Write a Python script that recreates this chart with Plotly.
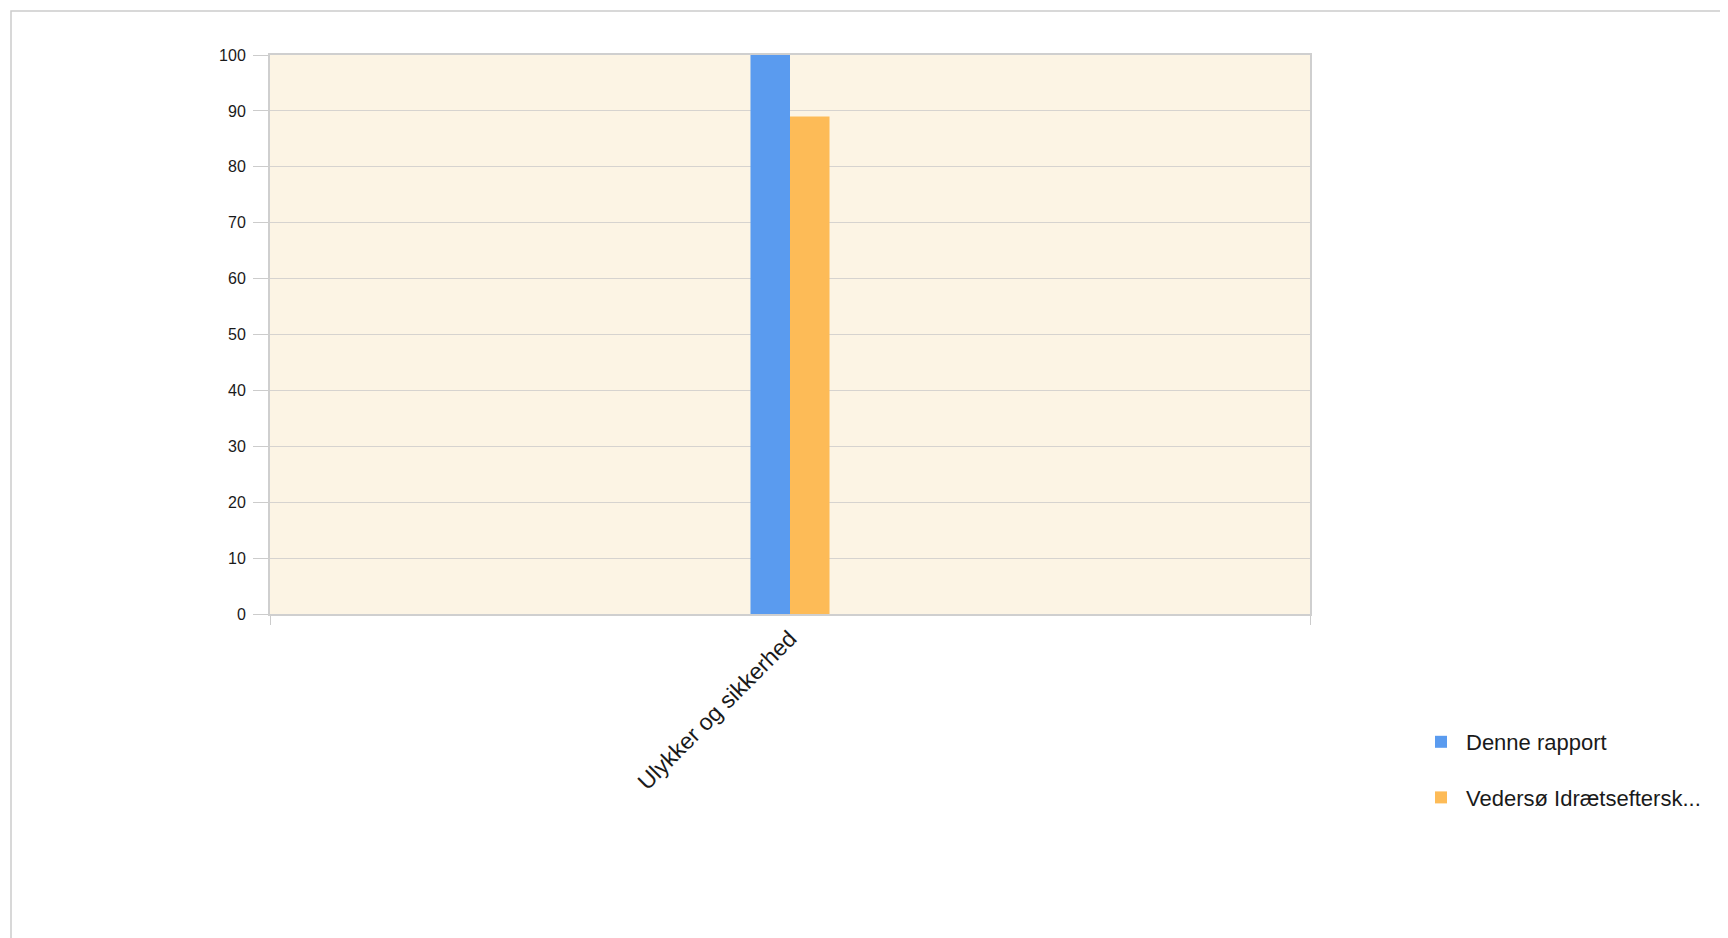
import plotly.graph_objects as go

categories = ["Ulykker og sikkerhed"]
series_names = ["Denne rapport", "Vedersø Idrætseftersk..."]
series_values = [[100], [89]]
series_colors = ["#5A9BEF", "#FDBB57"]
y_ticks = list(range(0, 101, 10))

OFF = 8  # page body margin
W, H = 1728, 938
L, R, T, B = 270 - OFF, 1310 - OFF, 55 - OFF, 614 - OFF

fig = go.Figure()
for i, (name, vals, col) in enumerate(zip(series_names, series_values, series_colors)):
    fig.add_trace(go.Bar(
        x=categories, y=vals, name=name,
        marker=dict(color=col, line=dict(width=0)),
        legendgroup=f"g{i}",
    ))

def px_to_paper_x(px):
    return (px - OFF - L) / (R - L)

def px_to_paper_y(py):
    return (B - (py - OFF)) / (B - T)

# outer frame (decorative)
fig.add_shape(type="rect", xref="paper", yref="paper",
              x0=px_to_paper_x(11), x1=px_to_paper_x(1780),
              y0=px_to_paper_y(1000), y1=px_to_paper_y(11),
              line=dict(color="#cccccc", width=1.5), fillcolor="rgba(0,0,0,0)",
              layer="below")

fig.update_layout(
    width=W, height=H,
    margin=dict(l=L, r=W - R, t=T, b=H - B, autoexpand=False),
    paper_bgcolor="white",
    plot_bgcolor="#FCF4E4",
    barmode="group",
    bargap=0.924,
    bargroupgap=0,
    font=dict(family="Liberation Sans, Arial, sans-serif", color="#1a1a1a"),
    showlegend=True,
    legend=dict(
        x=px_to_paper_x(1416), xanchor="left",
        y=px_to_paper_y(721), yanchor="top",
        font=dict(size=22, color="#1a1a1a"),
        tracegroupgap=24,
        itemwidth=40,
        bgcolor="rgba(0,0,0,0)",
    ),
    xaxis=dict(
        type="category",
        range=[-0.5, 0.5],
        tickangle=-45,
        tickson="boundaries",
        ticks="outside", ticklen=9, tickcolor="#cccccc", tickwidth=1,
        showline=True, linecolor="#cfcfcf", linewidth=2, mirror=True,
        showgrid=False,
        tickfont=dict(size=23, color="#1a1a1a"),
    ),
    yaxis=dict(
        range=[0, 100],
        tickvals=y_ticks,
        ticks="outside", ticklen=15, tickcolor="#cccccc", tickwidth=1,
        showline=True, linecolor="#cfcfcf", linewidth=2, mirror=True,
        showgrid=True, gridcolor="#d6d3cf", gridwidth=1,
        zeroline=False,
        tickfont=dict(size=16, color="#1a1a1a"),
        ticklabelstandoff=4,
    ),
)

fig.write_html("out.html")
